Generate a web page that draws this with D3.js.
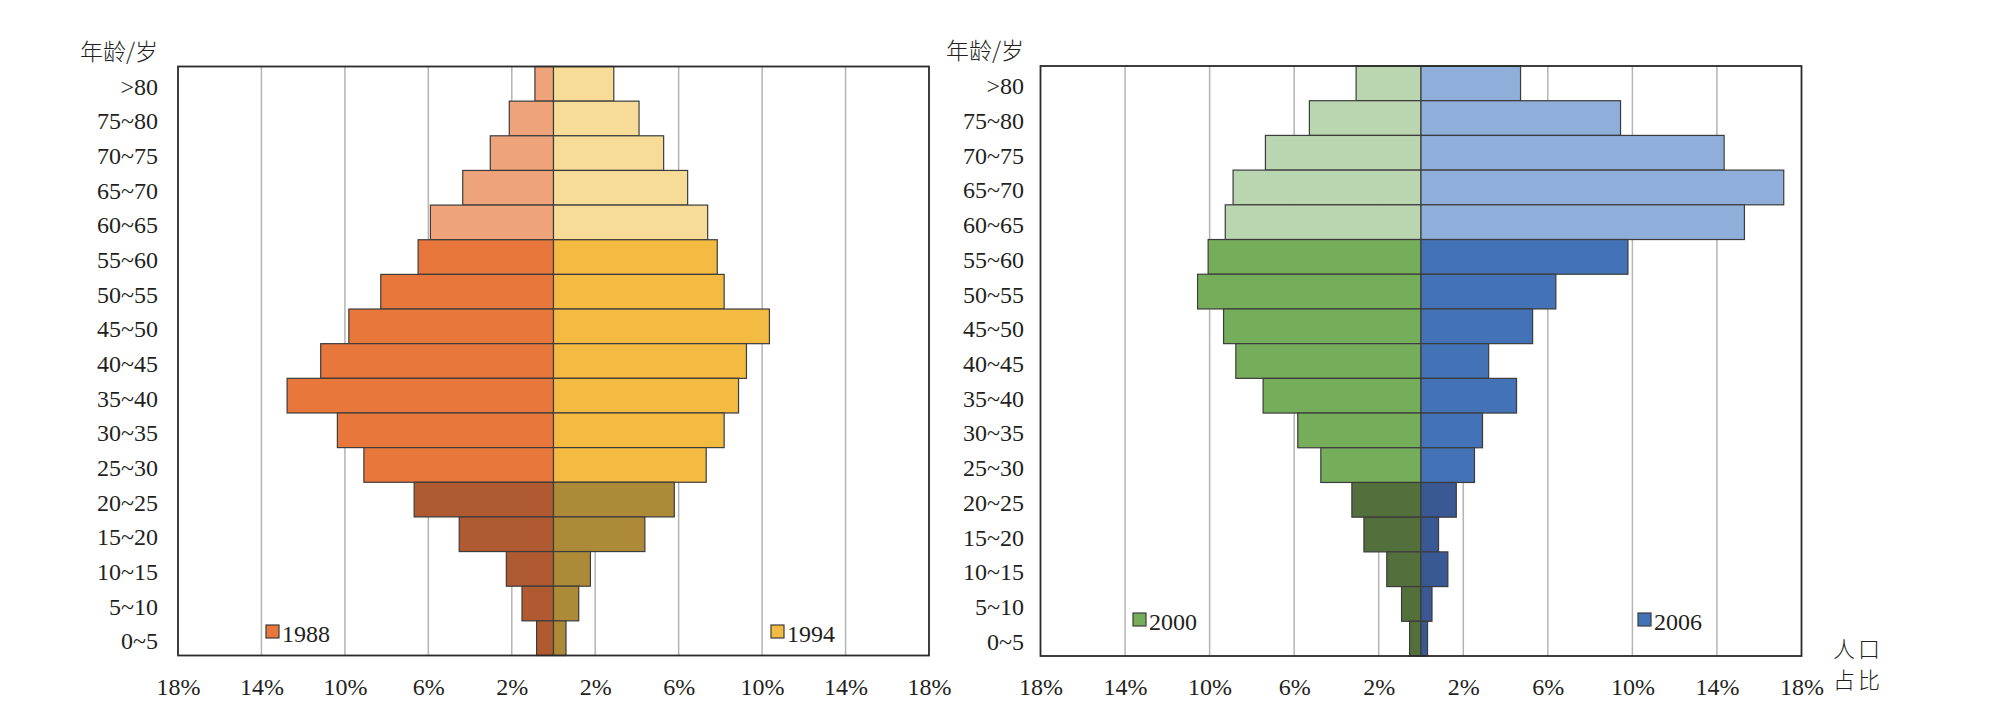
<!DOCTYPE html>
<html>
<head>
<meta charset="utf-8">
<script src="https://cdn.jsdelivr.net/npm/d3@7"></script>
<style>
  body { margin: 0; background: #fff; }
  svg text { font-family: "Liberation Serif", "Times New Roman", "DejaVu Serif", serif; fill: #231f20; }
  svg text.cjk { font-family: "Noto Sans CJK SC", sans-serif; font-weight: 300; }
</style>
</head>
<body>
<script>
// Data (percent of population)

var ages = ['>80', '75~80', '70~75', '65~70', '60~65', '55~60', '50~55', '45~50',
    '40~45', '35~40', '30~35', '25~30', '20~25', '15~20', '10~15', '5~10', '0~5'];

var y1988 = [0.89, 2.12, 3.03, 4.35, 5.90, 6.49, 8.28, 9.81, 11.16, 12.77, 10.36, 9.09, 6.68, 4.52, 2.26, 1.51, 0.81];
var y1994 = [2.89, 4.10, 5.28, 6.43, 7.39, 7.85, 8.18, 10.35, 9.25, 8.87, 8.18, 7.32, 5.79, 4.38, 1.77, 1.21, 0.60];
var y2000 = [3.07, 5.28, 7.36, 8.89, 9.26, 10.07, 10.57, 9.34, 8.76, 7.47, 5.83, 4.74, 3.27, 2.70, 1.62, 0.92, 0.54];
var y2006 = [4.71, 9.44, 14.34, 17.16, 15.30, 9.79, 6.38, 5.28, 3.20, 4.52, 2.91, 2.53, 1.67, 0.83, 1.27, 0.52, 0.31];

var tickValues = [-18, -14, -10, -6, -2, 2, 6, 10, 14, 18];
var gridValues = [-14, -10, -6, -2, 2, 6, 10, 14];

// colour by age group: [old, working, young]
var colors1988 = ['#efa37b', '#e8773b', '#af5a31'];
var colors1994 = ['#f7dc98', '#f3bb42', '#ad8a37'];
var colors2000 = ['#b9d6b0', '#76ad5a', '#536f3c'];
var colors2006 = ['#8faed9', '#4372b7', '#3a5894'];

var serif = '"Liberation Serif", "Times New Roman", "DejaVu Serif", serif';

function ageGroup(i) {
    return i < 5 ? 0 : (i < 12 ? 1 : 2);
}

var svg = d3.select('body').append('svg')
    .attr('width', 2000)
    .attr('height', 706);

// draws one pyramid: box = {left, right, top, bottom}
function pyramid(box, leftVals, rightVals, leftCols, rightCols, labelX, legend) {
    var x = d3.scaleLinear().domain([-18, 18]).range([box.left, box.right]);
    var y = d3.scaleBand().domain(ages).range([box.top, box.bottom]).padding(0);
    var g = svg.append('g');

    // grid lines
    g.selectAll('line.grid').data(gridValues).enter()
        .append('line')
        .attr('class', 'grid')
        .attr('x1', function (d) { return x(d); })
        .attr('x2', function (d) { return x(d); })
        .attr('y1', box.top)
        .attr('y2', box.bottom)
        .attr('stroke', '#b4b4b4')
        .attr('stroke-width', 1.5);

    // left bars
    g.selectAll('rect.l').data(leftVals).enter()
        .append('rect')
        .attr('class', 'l')
        .attr('x', function (d) { return x(-d); })
        .attr('y', function (d, i) { return y(ages[i]); })
        .attr('width', function (d) { return x(0) - x(-d); })
        .attr('height', y.bandwidth())
        .attr('fill', function (d, i) { return leftCols[ageGroup(i)]; })
        .attr('stroke', '#3c3c3c')
        .attr('stroke-width', 1.2);

    // right bars
    g.selectAll('rect.r').data(rightVals).enter()
        .append('rect')
        .attr('class', 'r')
        .attr('x', x(0))
        .attr('y', function (d, i) { return y(ages[i]); })
        .attr('width', function (d) { return x(d) - x(0); })
        .attr('height', y.bandwidth())
        .attr('fill', function (d, i) { return rightCols[ageGroup(i)]; })
        .attr('stroke', '#3c3c3c')
        .attr('stroke-width', 1.2);

    // frame
    g.append('rect')
        .attr('x', box.left)
        .attr('y', box.top)
        .attr('width', box.right - box.left)
        .attr('height', box.bottom - box.top)
        .attr('fill', 'none')
        .attr('stroke', '#2a2a2a')
        .attr('stroke-width', 1.8);

    // x axis labels
    var ax = g.append('g')
        .attr('transform', 'translate(0,' + box.bottom + ')')
        .call(d3.axisBottom(x)
            .tickValues(tickValues)
            .tickSize(0)
            .tickPadding(22)
            .tickFormat(function (d) { return Math.abs(d) + '%'; }));
    ax.attr('font-family', serif).attr('font-size', 24);
    ax.select('.domain').remove();
    ax.selectAll('text')
        .style('font-family', serif)
        .style('font-size', '24px')
        .attr('fill', '#231f20');

    // age labels
    g.selectAll('text.age').data(ages).enter()
        .append('text')
        .attr('class', 'age')
        .attr('x', labelX)
        .attr('y', function (d) { return y(d) + y.bandwidth() / 2 + 11; })
        .attr('text-anchor', 'end')
        .style('font-family', serif)
        .style('font-size', '24px')
        .text(function (d) { return d; });

    // axis title
    g.append('text')
        .attr('class', 'cjk')
        .attr('x', labelX)
        .attr('y', box.top - 7)
        .attr('text-anchor', 'end')
        .style('font-size', '23px')
        .text('年龄/岁');

    // legends
    legend.forEach(function (l) {
        g.append('rect')
            .attr('x', l.x)
            .attr('y', l.y)
            .attr('width', 13)
            .attr('height', 13)
            .attr('fill', l.color)
            .attr('stroke', '#3c3c3c')
            .attr('stroke-width', 1.2);
        g.append('text')
            .attr('x', l.x + 16)
            .attr('y', l.y + 17)
            .style('font-family', serif)
            .style('font-size', '24px')
            .text(l.label);
    });

    return g;
}

pyramid({left: 178, right: 929, top: 66.5, bottom: 655.5},
    y1988, y1994, colors1988, colors1994, 158,
    [{x: 266, y: 625, color: colors1988[1], label: '1988'},
     {x: 771, y: 625, color: colors1994[1], label: '1994'}]);

pyramid({left: 1040.5, right: 1801.5, top: 66, bottom: 656},
    y2000, y2006, colors2000, colors2006, 1024,
    [{x: 1133, y: 613, color: colors2000[1], label: '2000'},
     {x: 1638, y: 613, color: colors2006[1], label: '2006'}]);

// x axis title
svg.append('text')
    .attr('class', 'cjk')
    .attr('x', 1833)
    .attr('y', 657)
    .style('font-size', '22px')
    .style('letter-spacing', '3px')
    .text('人口');
svg.append('text')
    .attr('class', 'cjk')
    .attr('x', 1833)
    .attr('y', 688)
    .style('font-size', '22px')
    .style('letter-spacing', '3px')
    .text('占比');
</script>
</body>
</html>
